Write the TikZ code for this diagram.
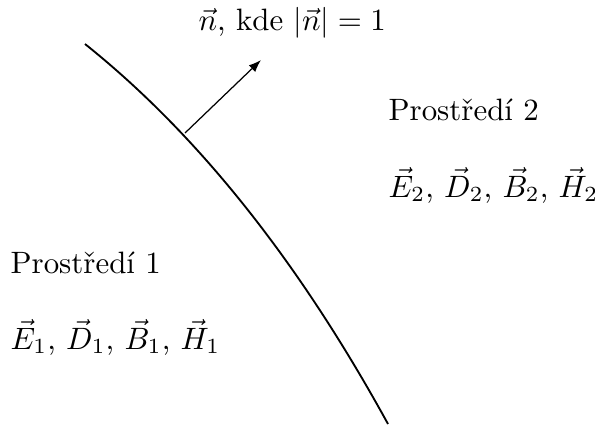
\documentclass[tikz,border=0pt]{standalone}
\usepackage{fontspec}
\usetikzlibrary{arrows.meta}
\begin{document}
\begin{tikzpicture}[x=0.3236pt,y=-0.3236pt,
  lbl/.style={anchor=base west,inner sep=0pt,font=\normalsize},
  boundary/.style={line width=0.6pt},
  normalvec/.style={line width=0.4pt,-{Latex[length=4pt,width=3pt]}}]
\useasboundingbox (0,0) rectangle (595,428);
\coordinate (top) at (85,44);
\coordinate (bot) at (388,424);
\coordinate (foot) at (185,133);
\coordinate (tip) at (261,60);
\draw[boundary] (top) .. controls (197,133.5) and (298,260) .. (bot);
\draw[normalvec] (foot) -- (tip);
\node[lbl] (nlabel) at (198,30) {$\vec{n}$, kde $|\vec{n}| = 1$};
\node[lbl] (p2) at (388,120) {Prostředí 2};
\node[lbl] (f2) at (388,197) {$\vec{E}_2$, $\vec{D}_2$, $\vec{B}_2$, $\vec{H}_2$};
\node[lbl] (p1) at (10,273) {Prostředí 1};
\node[lbl] (f1) at (10,349) {$\vec{E}_1$, $\vec{D}_1$, $\vec{B}_1$, $\vec{H}_1$};
\end{tikzpicture}
\end{document}
